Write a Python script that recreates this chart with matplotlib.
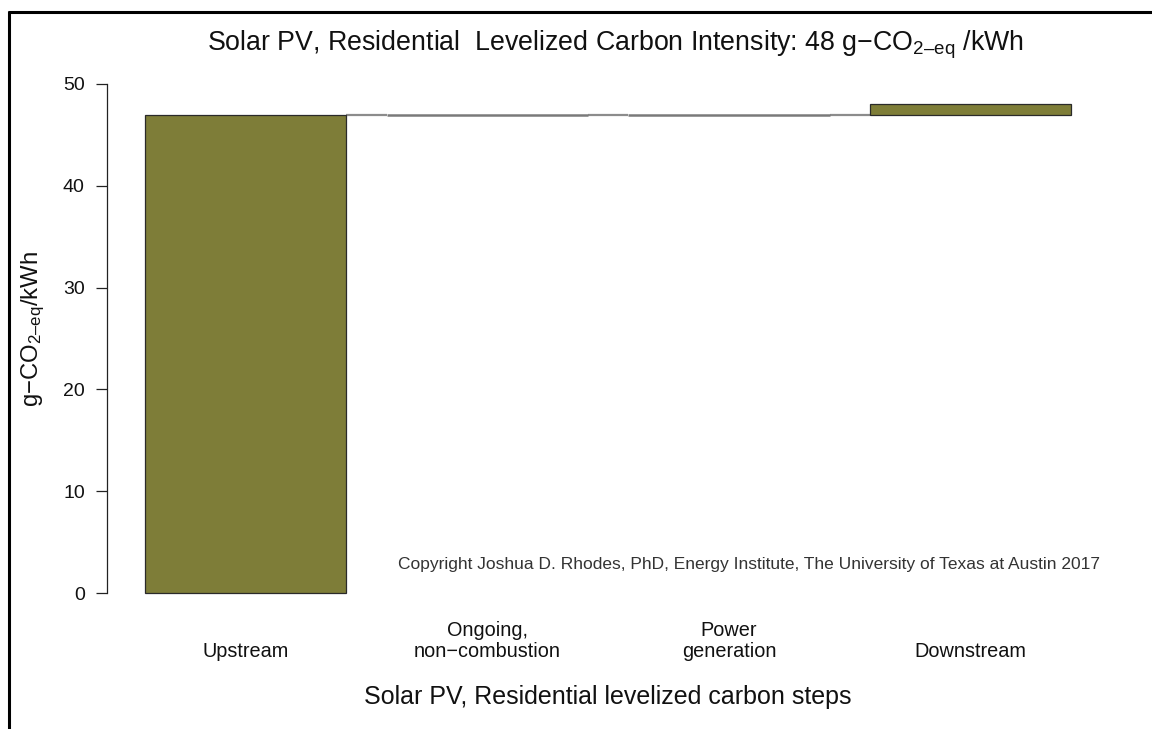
import matplotlib
matplotlib.use("Agg")
import matplotlib.pyplot as plt
from matplotlib.lines import Line2D
from matplotlib.transforms import blended_transform_factory

plt.rcParams['font.family'] = ['Liberation Sans', 'DejaVu Sans']
plt.rcParams['mathtext.fontset'] = 'custom'
plt.rcParams['mathtext.rm'] = 'Liberation Sans'
plt.rcParams['mathtext.it'] = 'Liberation Sans'

# Levelized carbon steps (g-CO2-eq/kWh)
categories = ["Upstream", "Ongoing,\nnon\u2212combustion", "Power\ngeneration", "Downstream"]
step_values = [47.0, 0.0, 0.0, 1.0]
total_intensity = 48
y_ticks = [0, 10, 20, 30, 40, 50]

bar_color = "#7e7d38"
W, H, DPI = 1152, 729, 100
fig = plt.figure(figsize=(W / DPI, H / DPI), dpi=DPI)

# axes placed in pixel terms
px_left, px_right = 107, 1110
px_top, px_bottom = 63.6, 613.4
ax = fig.add_axes([px_left / W, 1 - px_bottom / H,
                   (px_right - px_left) / W, (px_bottom - px_top) / H])

bar_w = 1.0
space = 0.2
lefts = [space + i * (bar_w + space) for i in range(len(step_values))]
centers = [l + bar_w / 2 for l in lefts]

bottoms = []
running = 0.0
for v in step_values:
    bottoms.append(running)
    running += v

# connector between consecutive steps at the running level
for i in range(len(step_values) - 1):
    level = bottoms[i] + step_values[i]
    ax.plot([lefts[i] + bar_w, lefts[i + 1]], [level, level],
            color="#8c8c8c", lw=1.6, solid_capstyle="butt", zorder=1)

for i, v in enumerate(step_values):
    if v == 0:
        ax.plot([lefts[i], lefts[i] + bar_w], [bottoms[i], bottoms[i]],
                color="#7a7a7a", lw=1.8, solid_capstyle="butt", zorder=2)
    else:
        ax.bar(lefts[i], v, width=bar_w, bottom=bottoms[i], align="edge",
               color=bar_color, edgecolor="#2a2a2a", linewidth=0.9, zorder=3)

x0 = 0.0114
ax.set_xlim(x0, x0 + (px_right - px_left) / 201.4)
ax.set_ylim(-2, 52)

for s in ["top", "right", "bottom"]:
    ax.spines[s].set_visible(False)
ax.spines["left"].set_bounds(0, 50)
ax.spines["left"].set_linewidth(0.9)
ax.spines["left"].set_color("#222222")
ax.set_xticks([])
ax.set_yticks(y_ticks)
ax.tick_params(axis="y", direction="out", length=8, width=0.9, pad=8,
               labelsize=14, colors="#222222", labelcolor="#111111")

# category labels under the bars
lab_tr = blended_transform_factory(ax.transData, fig.transFigure)
for c, lab in zip(centers, categories):
    ax.text(c, 1 - 657 / H, lab, transform=lab_tr,
            ha="center", va="baseline", fontsize=14.3, color="#111111", linespacing=1.15)

sub = "$_{\\mathregular{2\u2013eq}}$"
fig.text(615 / W, 1 - 45 / H,
         "Solar PV, Residential  Levelized Carbon Intensity: %d g\u2212CO%s /kWh" % (total_intensity, sub),
         ha="center", va="center", fontsize=19.3, color="#111111")

fig.text(33 / W, 1 - 329 / H, "g\u2212CO%s/kWh" % sub,
         rotation=90, ha="center", va="center", fontsize=17.2, color="#111111")

fig.text(608 / W, 1 - 697 / H, "Solar PV, Residential levelized carbon steps",
         ha="center", va="center", fontsize=18, color="#111111")

fig.text(749 / W, 1 - 565 / H,
         "Copyright Joshua D. Rhodes, PhD, Energy Institute, The University of Texas at Austin 2017",
         ha="center", va="center", fontsize=12.5, color="#333333")

# frame strokes along the top and left edges
fig.add_artist(Line2D([9 / W, 9 / W], [1 - 11 / H, 0], transform=fig.transFigure,
                      color="black", lw=2.2, solid_capstyle="butt"))
fig.add_artist(Line2D([8 / W, 1], [1 - 12 / H, 1 - 12 / H], transform=fig.transFigure,
                      color="black", lw=2.2, solid_capstyle="butt"))

fig.savefig("out.png", dpi=DPI, facecolor="white")
